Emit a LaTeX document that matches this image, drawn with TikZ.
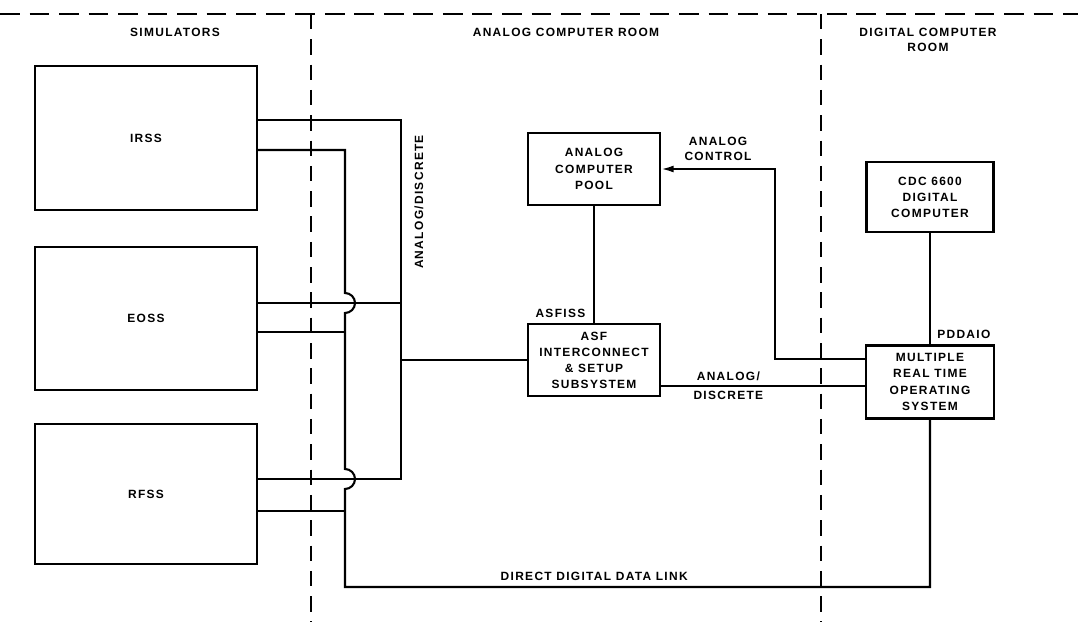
\documentclass[tikz,border=0pt]{standalone}
\usepackage{fontspec}
\setsansfont{Liberation Sans}[LetterSpace=11]
\usetikzlibrary{positioning, arrows.meta}

\begin{document}
\begin{tikzpicture}[x=0.025cm, y=-0.025cm,
      block/.style={draw, line width=1.5pt, minimum width=3.3cm, minimum height=1.8cm,
        inner sep=0pt, align=center, font=\sffamily\bfseries\fontsize{8.5}{11.5}\selectfont},
      sim/.style={block, minimum width=5.55cm, minimum height=3.6cm},
      lbl/.style={font=\sffamily\bfseries\fontsize{8.5}{11}\selectfont, align=center, inner sep=1pt},
      wire/.style={line width=1.5pt},
      room/.style={line width=1.4pt, dash pattern=on 14pt off 7pt},
      wall/.style={room, dash pattern=on 11pt off 7pt},
      >={Latex[length=9pt, width=5pt]}]
    \useasboundingbox (0,0) rectangle (1078,631);
    \node[sim] (irss) at (146,138) {IRSS};
    \node[sim, minimum height=3.575cm, below=0.875cm of irss] (eoss) {EOSS};
    \node[sim, minimum height=3.5cm, below=0.8cm of eoss] (rfss) {RFSS};
    \node[block] (pool) at (594,169) {ANALOG\\COMPUTER\\POOL};
    \node[block, below=2.925cm of pool] (asf) {ASF\\INTERCONNECT\\\&~SETUP\\SUBSYSTEM};
    \node[block, minimum width=3.2cm, minimum height=1.825cm] (mrtos) at (930,382)
      {MULTIPLE\\REAL TIME\\OPERATING\\SYSTEM};
    \node[block, minimum width=3.175cm, minimum height=1.75cm, above=2.775cm of mrtos] (cdc)
      {CDC 6600\\DIGITAL\\COMPUTER};
    \node[lbl] (simroom) at (175,32) {SIMULATORS};
    \node[lbl] (anaroom) at (566,32) {ANALOG COMPUTER ROOM};
    \node[lbl] (digroom) at (928,40) {DIGITAL COMPUTER\\ROOM};
    \node[lbl, rotate=90] (busname) at (419,202) {ANALOG/DISCRETE};
    \node[lbl, above left=3pt and 5pt of asf.north] {ASFISS};
    \node[lbl, above right=3pt and 4pt of mrtos.north] {PDDAIO};
    \coordinate (bustop) at (401,120);
    \coordinate (busbot) at (401,479);
    \coordinate (trunk) at (345,150);
    \coordinate (link) at (345,587);
    \coordinate (ctl) at (775,359);
    \draw[room] (0,14) -- (1078,14);
    \draw[wall] (311,14) -- (311,622);
    \draw[wall] (821,14) -- (821,622);
    \draw[wire] (irss.east |- bustop) -- (bustop) -- (busbot) -- (rfss.east |- busbot);
    \draw[wire] (eoss.east |- 0,303) -- (bustop |- 0,303);
    \draw[wire] (bustop |- asf.west) -- (asf.west);
    \draw[wire] (irss.east |- trunk) -- (trunk) -- (345,293) arc[start angle=-90, end angle=90, radius=10]
      -- (345,469) arc[start angle=-90, end angle=90, radius=10] -- (link)
      -| node[lbl, above=3pt, pos=0.213] {DIRECT DIGITAL DATA LINK} (mrtos.south);
    \draw[wire] (eoss.east |- 0,332) -- (trunk |- 0,332);
    \draw[wire] (rfss.east |- 0,511) -- (trunk |- 0,511);
    \draw[wire] (pool.south) -- (pool.south |- asf.north);
    \draw[wire] (cdc.south) -- (cdc.south |- mrtos.north);
    \draw[wire, ->] (mrtos.west |- ctl) -- (ctl)
      |- node[lbl, above=4pt, pos=0.75] {ANALOG\\CONTROL} (pool.east);
    \draw[wire] (asf.east |- 0,386) -- node[lbl, pos=0.33, above=2pt] {ANALOG/}
      node[lbl, pos=0.33, below=2pt] {DISCRETE} (mrtos.west |- 0,386);
  \end{tikzpicture}
\end{document}
